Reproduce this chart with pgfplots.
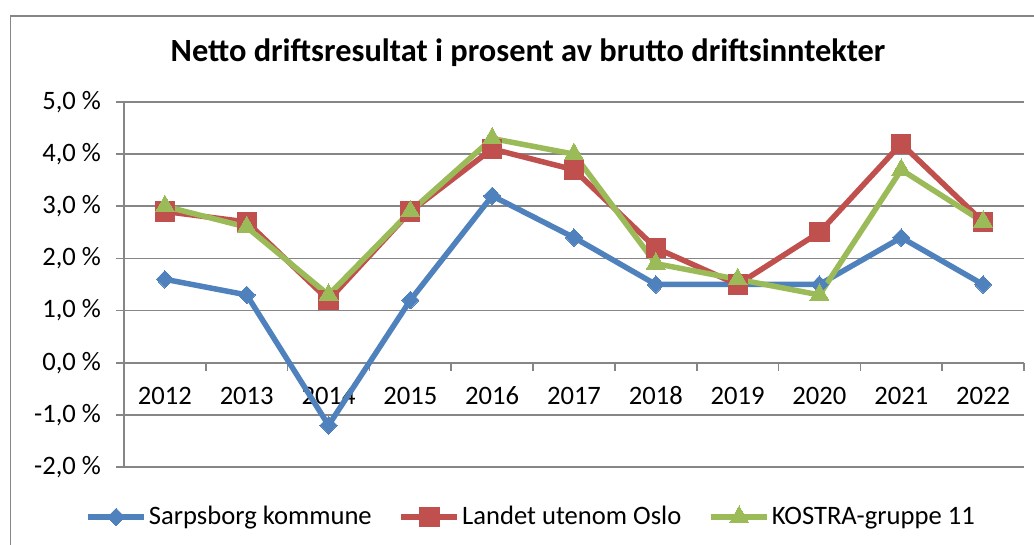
\documentclass[border=0pt]{standalone}
\usepackage{pgfplots}
\pgfplotsset{compat=1.18}
\usepackage{fontspec}
\setmainfont{Carlito}
\definecolor{sblue}{HTML}{4F81BD}
\definecolor{sred}{HTML}{C0504D}
\definecolor{sgreen}{HTML}{9BBB59}
\definecolor{gridgray}{HTML}{868686}
\begin{document}
\begin{tikzpicture}
\begin{axis}[
  at={(0,0)}, anchor=south west,
  scale only axis, width=450pt, height=182.5pt,
  xmin=-0.5, xmax=10.5, ymin=-2, ymax=5,
  axis x line=middle, axis y line=left,
  axis line style={gridgray, line width=0.8pt, -},
  xtick={0,1,2,3,4,5,6,7,8,9,10},
  xticklabels={2012,2013,2014,2015,2016,2017,2018,2019,2020,2021,2022},
  major x tick style={draw=none},
  minor xtick={-0.5,0.5,1.5,2.5,3.5,4.5,5.5,6.5,7.5,8.5,9.5,10.5},
  minor x tick style={gridgray, line width=0.8pt},
  xtick align=outside,
  minor tick length=4pt,
  ytick={-2,-1,0,1,2,3,4,5},
  yticklabels={{-2,0 \%},{-1,0 \%},{0,0 \%},{1,0 \%},{2,0 \%},{3,0 \%},{4,0 \%},{5,0 \%}},
  ytick align=outside,
  major tick length=4pt,
  y tick style={gridgray, line width=0.8pt},
  ymajorgrids,
  grid style={gridgray, line width=0.8pt},
  tick label style={font=\fontsize{13.3}{15}\selectfont},
  xticklabel style={anchor=base, yshift=-17pt},
  yticklabel style={xshift=-4pt},
  legend style={at={(-19.5pt,-25pt)}, anchor=west, draw=none, inner sep=0pt,
    legend cell align=left,
    nodes={inner sep=1pt},
    font=\fontsize{13.3}{15}\selectfont,
    /tikz/every even column/.append style={column sep=12.5pt}},
  legend columns=3,
  legend image code/.code={\draw[mark repeat=2,mark phase=2] plot coordinates {(0pt,0pt) (14pt,0pt) (28pt,0pt)};},
  clip=false,
]
\addplot[sblue, line width=2.75pt, mark=diamond*, mark size=4.4pt, mark options={solid, xscale=1.3, line width=0pt, fill=sblue, draw=sblue}]
  coordinates {(0,1.6) (1,1.3) (2,-1.2) (3,1.2) (4,3.2) (5,2.4) (6,1.5) (7,1.5) (8,1.5) (9,2.4) (10,1.5)};
\addlegendentry{Sarpsborg kommune}
\addplot[sred, line width=2.75pt, mark=square*, mark size=4.8pt, mark options={solid, line width=0pt, fill=sred, draw=sred}]
  coordinates {(0,2.9) (1,2.7) (2,1.2) (3,2.9) (4,4.1) (5,3.7) (6,2.2) (7,1.5) (8,2.5) (9,4.2) (10,2.7)};
\addlegendentry{Landet utenom Oslo}
\addplot[sgreen, line width=2.75pt, mark=triangle*, mark size=5.5pt, mark options={solid, line width=0pt, fill=sgreen, draw=sgreen}]
  coordinates {(0,3.0) (1,2.6) (2,1.3) (3,2.9) (4,4.3) (5,4.0) (6,1.9) (7,1.6) (8,1.3) (9,3.7) (10,2.7)};
\addlegendentry{KOSTRA-gruppe 11}
\end{axis}
\node[font=\fontsize{16.2}{19}\selectfont\bfseries, anchor=base] at (202pt,202.5pt) {Netto driftsresultat i prosent av brutto driftsinntekter};
\draw[gridgray, line width=0.85pt] (-56.75pt,-39pt) -- (-56.75pt,225.6pt) -- (455pt,225.6pt);
\pgfresetboundingbox
\path[use as bounding box] (-62pt,-39pt) rectangle (455pt,233.5pt);
\end{tikzpicture}
\end{document}
